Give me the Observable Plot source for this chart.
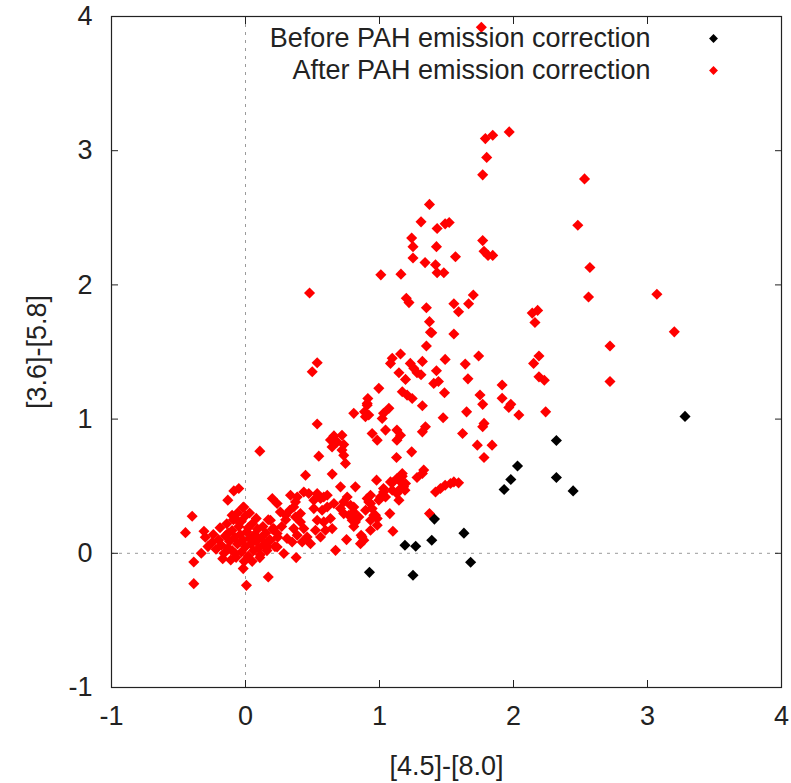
<!DOCTYPE html>
<html>
<head>
<meta charset="utf-8">
<script src="https://cdn.jsdelivr.net/npm/d3@7"></script>
<script src="https://cdn.jsdelivr.net/npm/@observablehq/plot@0.6"></script>
<style>
  html, body { margin: 0; padding: 0; background: #fff; }
  #chart svg { display: block; }
</style>
</head>
<body>
<div id="chart"></div>
<script>
// Colour–colour diagram: [4.5]-[8.0] versus [3.6]-[5.8]

const xTicks = [-1, 0, 1, 2, 3, 4];
const yTicks = [-1, 0, 1, 2, 3, 4];

const seriesNames = ["Before PAH emission correction", "After PAH emission correction"];
const seriesColors = ["#000000", "#ff0000"];

// Sources whose colours were measured before the PAH emission correction
const beforeX = [3.28, 2.32, 2.03, 1.98, 1.93, 2.32, 2.445, 1.41, 1.63, 1.39, 1.19, 1.27, 1.68, 0.925, 1.25];
const beforeY = [1.02, 0.84, 0.65, 0.55, 0.475, 0.565, 0.465, 0.255, 0.15, 0.097, 0.06, 0.052, -0.067, -0.142, -0.164];

// All sources after the PAH emission correction
const afterX = [
  1.76, 1.968, 1.79, 1.845, 1.80, 1.77, 2.53, 2.48, 1.77, 1.78, 1.81, 1.845, 2.57, 2.56, 3.07, 3.20,
  1.70, 1.665, 1.555, 1.59, 2.18, 2.14, 2.16, 1.555, 2.72, 1.74, 1.64, 2.19, 2.15, 1.66, 2.19, 2.23,
  2.72, 1.915, 1.75, 1.77, 1.915, 1.98, 1.965, 2.04, 2.24, 1.65, 1.78, 1.77, 1.62, 1.73, 1.84, 1.78,
  1.39, 1.35, 1.32, 1.49, 1.425, 1.31, 1.405, 1.44, 1.485, 1.32, 1.475, 1.343, 1.32, 1.33, 1.32,
  1.418, 1.455, 1.49, 1.53, 1.555, 1.59,
  1.373, 1.31, 1.43, 1.49, 1.52, 1.24, 1.25, 1.425, 1.25, 1.567, 1.34, 1.418, 1.43, 1.48, 1.01, 1.16,
  1.20, 1.22, 1.35, 1.373, 1.38, 0.478,
  1.24, 1.127, 1.28, 1.17, 1.145, 1.18, 1.19, 1.095, 1.03, 1.045, 0.978, 0.82, 1.145, 0.933, 0.92,
  0.97, 1.077, 0.808, 0.784, 0.796, 0.808, 1.373, 1.10, 0.87, 0.858, 0.908, 0.92, 0.895, 0.808,
  1.03, 1.07, 1.02, 0.945, 0.983, 1.045, 1.13, 1.157, 1.13,
  0.535, 0.498, 1.095, 1.157, 1.082, 1.23, 1.256, 1.28, 1.145, 1.194, 0.995, 1.17, 1.206, 1.244,
  0.913, 0.908, 0.888, 0.535,
  0.66, 0.634, 0.72, 0.684, 0.733, 0.646, 0.72, 0.733, 0.746, 0.547, 0.448, 0.647, 0.709, 0.107,
  1.082, 1.13, 1.17, 1.194, 1.157, 1.13, 1.095, 1.03, 1.007,
  0.386, 0.435, 0.472, 0.51, 0.535, 0.56, 0.584, 0.61, 0.66, 0.759, 0.733, 0.784, 0.808, 0.709,
  0.733, 0.771, 0.82, 0.846, 0.908, 0.933, 0.945, 0.896, 0.958, 0.983, 0.933, 0.995, 0.983, 0.933,
  0.754, 0.863, 0.883, 0.672, 0.378, 0.36, 0.373, 0.41, 0.41, 0.435, 0.36, 0.386, 0.46, 0.423,
  0.485, 0.348, 0.51, 0.572, 0.61, 0.535, 0.584, 0.634, 0.597, 0.647, 0.522, 0.56,
  -0.05, -0.087, -0.132, -0.013, -0.398, -0.10, -0.062, -0.448, -0.31, -0.386, -0.386, -0.017,
  0.007, 0.17, 0.107, 0.2, 0.236, 0.26, 0.3, 0.336, 0.373, 0.186, 0.21, 0.236, 0.186, 0.162,
  0.236, 0.31, 0.286, 0.3, 0.33, 0.27,
  -0.28, -0.25, -0.22, -0.2, -0.18, -0.16, -0.15, -0.13, -0.12, -0.1, -0.1, -0.08, -0.07, -0.06,
  -0.05, -0.04, -0.03, -0.02, 0.0, 0.01, 0.02, 0.03, 0.04, 0.05, 0.06, 0.07, 0.08, 0.09, 0.1,
  0.12, 0.13, 0.14, 0.15, 0.17, 0.18, 0.2, 0.22, -0.24, -0.19, -0.14, -0.09, -0.03, 0.0, -0.11,
  -0.17, 0.05, 0.11, -0.06, -0.02, 0.03, 0.08, -0.3, -0.33, 0.16, 0.24, -0.08, 0.02, -0.13, 0.06,
  -0.01
];
const afterY = [
  3.92, 3.14, 3.09, 3.115, 2.95, 2.82, 2.79, 2.445, 2.33, 2.25, 2.22, 2.22, 2.13, 1.91, 1.93, 1.65,
  1.925, 1.86, 1.86, 1.80, 1.81, 1.79, 1.72, 1.634, 1.545, 1.47, 1.41, 1.47, 1.415, 1.30, 1.315, 1.29,
  1.28, 1.254, 1.18, 1.11, 1.155, 1.11, 1.087, 1.03, 1.054, 1.054, 0.968, 0.943, 0.893, 0.806, 0.806, 0.714,
  1.644, 1.545, 1.43, 1.445, 1.36, 1.33, 1.266, 1.28, 1.196, 1.10, 1.01, 0.943, 0.905, 0.62, 0.595,
  0.457, 0.483, 0.507, 0.52, 0.532, 0.525,
  2.60, 2.47, 2.42, 2.455, 2.465, 2.35, 2.285, 2.285, 2.20, 2.21, 2.166, 2.15, 2.09, 2.09, 2.075, 2.08,
  1.90, 1.868, 1.83, 1.726, 1.647, 1.94,
  0.756, 0.714, 0.565, 0.595, 0.545, 0.495, 0.47, 0.525, 0.483, 0.42, 0.545, 0.495, 0.396, 0.433, 0.383,
  0.284, 0.296, 0.345, 0.284, 0.246, 0.20, 0.296, 0.164, 0.122, 0.072, 1.117, 1.03, 1.017, 1.043,
  1.043, 1.08, 1.005, 0.893, 0.843, 0.918, 0.918, 0.88, 0.843,
  1.42, 1.353, 1.453, 1.485, 1.415, 1.415, 1.378, 1.345, 1.345, 1.296, 1.229, 1.204, 1.179, 1.154,
  1.154, 1.104, 1.054, 0.963,
  0.875, 0.845, 0.88, 0.83, 0.81, 0.793, 0.769, 0.73, 0.67, 0.724, 0.582, 0.59, 0.495, 0.761,
  0.532, 0.557, 0.574, 0.52, 0.483, 0.446, 0.47, 0.457, 0.42,
  0.42, 0.457, 0.446, 0.396, 0.446, 0.408, 0.42, 0.433, 0.371, 0.42, 0.383, 0.358, 0.308, 0.333,
  0.296, 0.284, 0.234, 0.271, 0.408, 0.371, 0.333, 0.321, 0.284, 0.259, 0.246, 0.396, 0.209, 0.172,
  0.102, 0.134, 0.097, 0.022, -0.032, 0.345, 0.271, 0.296, 0.234, 0.184, 0.184, 0.134, 0.122, 0.084,
  0.072, 0.084, 0.333, 0.321, 0.345, 0.246, 0.234, 0.259, 0.172, 0.184, 0.172, 0.122,
  0.483, 0.465, 0.396, 0.345, 0.276, 0.284, 0.246, 0.154, 0.164, -0.065, -0.226, -0.114,
  -0.239, -0.177, -0.032, 0.408, 0.371, 0.308, 0.284, 0.433, 0.383, 0.246, 0.184, 0.147, 0.097, 0.047,
  0.047, 0.11, -0.002, 0.25, 0.32, 0.2,
  0.05, 0.08, 0.03, 0.1, 0.06, 0.0, 0.13, 0.04, 0.09, 0.17, 0.02, 0.12, -0.03, 0.07,
  0.2, 0.14, 0.01, 0.1, 0.05, 0.16, -0.02, 0.11, 0.07, 0.22, 0.02, 0.14, 0.09, 0.18, 0.04,
  0.12, 0.2, 0.07, 0.15, 0.25, 0.1, 0.18, 0.05, 0.14, 0.19, 0.22, 0.25, 0.24, 0.28, -0.05,
  -0.04, -0.06, -0.01, 0.3, 0.34, 0.3, 0.26, 0.12, 0.0, 0.02, 0.12, 0.0, 0.19, 0.15, 0.13,
  -0.06
];

const before = beforeX.map((x, i) => ({x, y: beforeY[i]}));
const after = afterX.map((x, i) => ({x, y: afterY[i]}));

const font = "'Liberation Sans', Arial, sans-serif";
const dotR = 5;

const chart = Plot.plot({
  width: 791,
  height: 783,
  marginLeft: 111,
  marginRight: 10,
  marginTop: 16,
  marginBottom: 96,
  style: {fontFamily: font, fontSize: "27px", color: "#222", background: "#fff"},
  x: {domain: [-1, 4]},
  y: {domain: [-1, 4]},
  marks: [
    // dashed zero axes
    Plot.ruleX([0], {stroke: "#9a9a9a", strokeDasharray: "3,5", strokeWidth: 1}),
    Plot.ruleY([0], {stroke: "#9a9a9a", strokeDasharray: "3,5", strokeWidth: 1}),
    // inward tick marks on all four sides
    Plot.axisX(xTicks, {anchor: "bottom", tickSize: -7, text: null, label: null, stroke: "#222"}),
    Plot.axisX(xTicks, {anchor: "top", tickSize: -7, text: null, label: null, stroke: "#222"}),
    Plot.axisY(yTicks, {anchor: "left", tickSize: -7, text: null, label: null, stroke: "#222"}),
    Plot.axisY(yTicks, {anchor: "right", tickSize: -7, text: null, label: null, stroke: "#222"}),
    // tick labels and axis titles
    Plot.axisX(xTicks, {anchor: "bottom", tickSize: 0, tickPadding: 18, tickFormat: d => d,
      label: "[4.5]-[8.0]", labelAnchor: "center", labelArrow: "none", labelOffset: 87, fill: "#222"}),
    Plot.axisY(yTicks, {anchor: "left", tickSize: 0, tickPadding: 19, tickFormat: d => d,
      label: "[3.6]-[5.8]", labelAnchor: "center", labelArrow: "none", labelOffset: 85, fill: "#222"}),
    Plot.frame({stroke: "#222", strokeWidth: 1.2}),
    // data
    Plot.dot(after, {x: "x", y: "y", symbol: "diamond2", r: dotR, fill: seriesColors[1], stroke: "none"}),
    Plot.dot(before, {x: "x", y: "y", symbol: "diamond2", r: dotR, fill: seriesColors[0], stroke: "none"}),
    // key
    Plot.text([seriesNames[0]], {frameAnchor: "top-right", lineAnchor: "middle", text: d => d, dx: -131, dy: 22, textAnchor: "end", fill: "#222"}),
    Plot.text([seriesNames[1]], {frameAnchor: "top-right", lineAnchor: "middle", text: d => d, dx: -131, dy: 54, textAnchor: "end", fill: "#222"}),
    Plot.dot([seriesNames[0]], {frameAnchor: "top-right", dx: -68, dy: 22, symbol: "diamond2", r: 4, fill: seriesColors[0]}),
    Plot.dot([seriesNames[1]], {frameAnchor: "top-right", dx: -68, dy: 54, symbol: "diamond2", r: 4, fill: seriesColors[1]})
  ]
});

document.getElementById("chart").appendChild(chart);
</script>
</body>
</html>
